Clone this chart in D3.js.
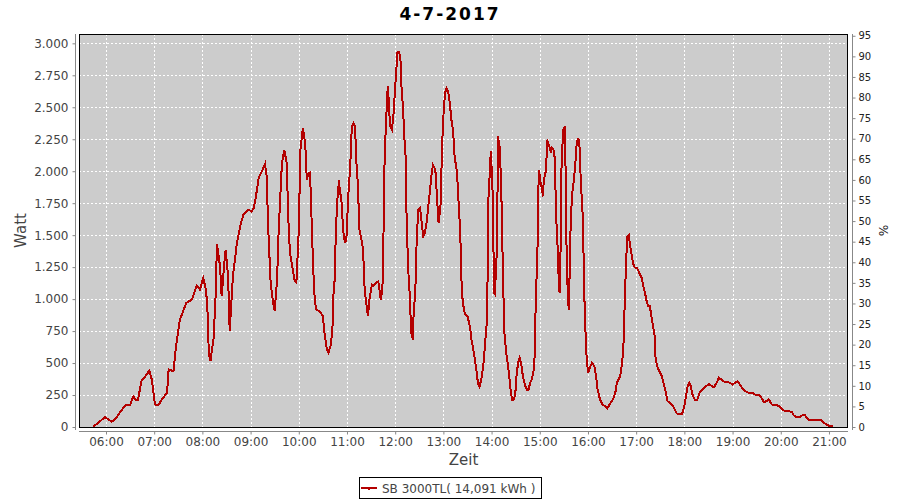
<!DOCTYPE html>
<html><head><meta charset="utf-8">
<script src="https://cdn.jsdelivr.net/npm/d3@7/dist/d3.min.js"></script>
<style>
html,body{margin:0;padding:0;background:#fff;}
svg{display:block;font-family:"DejaVu Sans",sans-serif;}
</style></head>
<body>
<svg id="chart" width="900" height="500"></svg>
<script>
const title = "4-7-2017";
const seriesName = "SB 3000TL( 14,091 kWh )";
const xTickLabels = ["06:00","07:00","08:00","09:00","10:00","11:00","12:00","13:00","14:00","15:00","16:00","17:00","18:00","19:00","20:00","21:00"];
const yTicks = [0,250,500,750,1000,1250,1500,1750,2000,2250,2500,2750,3000];
const pctTicks = [0,5,10,15,20,25,30,35,40,45,50,55,60,65,70,75,80,85,90,95];
const times = ["05:44","05:50","05:59","06:07","06:11","06:17","06:24","06:30","06:34","06:37","06:40","06:44","06:49","06:54","06:57","07:01","07:05","07:11","07:16","07:18","07:24","07:27","07:32","07:36","07:40","07:47","07:53","07:57","08:01","08:04","08:06","08:08","08:10","08:14","08:17","08:18","08:22","08:24","08:28","08:29","08:32","08:34","08:38","08:43","08:47","08:51","08:57","09:01","09:04","09:07","09:10","09:14","09:18","09:20","09:22","09:25","09:28","09:30","09:33","09:35","09:39","09:42","09:45","09:47","09:49","09:55","09:57","10:00","10:02","10:05","10:08","10:10","10:12","10:14","10:16","10:18","10:20","10:22","10:26","10:30","10:32","10:35","10:37","10:40","10:42","10:43","10:45","10:46","10:48","10:50","10:51","10:53","10:55","10:56","10:58","11:00","11:01","11:04","11:06","11:08","11:10","11:12","11:14","11:15","11:18","11:20","11:22","11:25","11:26","11:28","11:31","11:33","11:36","11:39","11:41","11:42","11:44","11:45","11:46","11:47","11:49","11:50","11:51","11:53","11:54","11:56","11:58","12:00","12:02","12:03","12:05","12:07","12:08","12:10","12:11","12:13","12:14","12:16","12:18","12:19","12:20","12:22","12:23","12:25","12:27","12:29","12:31","12:33","12:35","12:37","12:39","12:41","12:43","12:45","12:47","12:50","12:52","12:54","12:56","12:57","12:58","13:00","13:02","13:04","13:06","13:08","13:10","13:12","13:14","13:17","13:19","13:21","13:23","13:25","13:27","13:30","13:33","13:35","13:38","13:41","13:43","13:45","13:48","13:50","13:52","13:54","13:55","13:56","13:58","13:59","14:01","14:02","14:03","14:04","14:06","14:07","14:08","14:10","14:12","14:13","14:15","14:16","14:18","14:20","14:22","14:24","14:26","14:28","14:30","14:31","14:33","14:35","14:37","14:39","14:42","14:44","14:46","14:48","14:50","14:52","14:54","14:55","14:57","14:58","14:59","15:01","15:03","15:04","15:05","15:08","15:09","15:12","15:14","15:15","15:17","15:19","15:20","15:22","15:24","15:25","15:26","15:27","15:29","15:31","15:32","15:33","15:34","15:36","15:37","15:38","15:40","15:42","15:44","15:46","15:48","15:50","15:51","15:53","15:54","15:56","15:58","16:00","16:03","16:05","16:08","16:10","16:12","16:15","16:18","16:21","16:24","16:27","16:31","16:34","16:36","16:40","16:42","16:44","16:45","16:47","16:48","16:49","16:51","16:52","16:54","16:56","16:58","17:01","17:03","17:07","17:09","17:11","17:13","17:15","17:17","17:19","17:21","17:23","17:24","17:26","17:30","17:32","17:34","17:37","17:39","17:42","17:46","17:50","17:52","17:57","18:00","18:02","18:04","18:06","18:08","18:10","18:13","18:16","18:19","18:22","18:25","18:28","18:31","18:34","18:37","18:40","18:43","18:46","18:50","18:53","18:57","19:00","19:03","19:06","19:09","19:13","19:18","19:22","19:26","19:29","19:33","19:36","19:39","19:42","19:45","19:49","19:52","19:55","19:58","20:01","20:05","20:09","20:14","20:16","20:20","20:24","20:27","20:30","20:32","20:35","20:40","20:47","20:51","20:54","20:57","21:00","21:05"];
const watts = [0,33,77,43,58,110,170,170,240,215,215,358,397,441,371,176,170,228,267,449,436,619,840,905,970,996,1105,1074,1165,1087,970,580,514,697,1100,1433,1256,1022,1334,1387,1178,748,1178,1439,1569,1660,1700,1686,1712,1816,1947,1998,2056,1960,1543,1127,970,905,1152,1543,2063,2168,2063,1621,1361,1139,1129,1543,2168,2337,2220,1934,1986,1990,1610,1230,983,918,905,866,736,605,580,645,788,1022,1178,1517,1777,1928,1855,1777,1569,1491,1439,1517,1752,2037,2350,2376,2350,2037,1855,1556,1465,1387,1074,918,866,996,1113,1105,1127,1139,1048,996,1074,1256,1800,2142,2428,2598,2662,2428,2350,2324,2455,2662,2845,2936,2936,2845,2637,2480,2298,2116,1700,1256,1048,892,736,684,892,1048,1517,1700,1712,1595,1491,1517,1595,1712,1830,1960,2051,2012,1803,1595,1700,1777,2142,2428,2611,2650,2624,2533,2402,2324,2116,1986,1751,1517,1048,944,879,866,788,684,580,449,345,314,397,502,658,814,1150,1777,2012,2155,1908,1595,1048,1040,1283,1543,2272,2194,1895,1543,970,736,592,502,397,267,209,215,293,397,502,541,488,397,319,293,293,345,371,423,580,1022,1309,1803,2012,1908,1855,1803,1934,2012,2246,2194,2142,2181,2168,2090,1700,1439,1074,1048,1439,2012,2324,2350,2063,1517,1178,918,1152,1491,1803,1908,2037,2220,2259,2168,1908,1725,1491,892,580,423,475,502,475,397,293,215,176,163,145,176,215,267,345,397,475,605,814,1205,1361,1491,1504,1439,1361,1283,1248,1244,1217,1165,1100,1048,985,944,944,866,788,710,553,475,423,397,345,267,202,189,163,111,98,98,163,241,319,345,319,254,215,215,267,293,306,324,337,319,311,345,384,371,353,353,345,332,345,358,332,293,272,262,262,249,249,228,194,202,215,176,170,170,163,142,124,124,119,92,77,77,92,98,72,53,53,53,51,33,20,9,6];

const toMin = s => { const [h,m] = s.split(":").map(Number); return h*60+m; };
const data = times.map((t,i) => ({t: toMin(t), v: watts[i]}));

const svg = d3.select("#chart");
const L = 79, R = 848, T = 34, B = 427;
const x = d3.scaleLinear().domain([326.4, 1283.7]).range([L, R]);
const y = d3.scaleLinear().domain([0, 3073]).range([B, T]);
const yp = d3.scaleLinear().domain([0, 95.43]).range([B, T]);
const de = d3.formatLocale({decimal:",", thousands:".", grouping:[3], currency:["","€"]});
const fmt = de.format(",.0f");

// plot background
svg.append("rect").attr("x", L).attr("y", T).attr("width", R-L).attr("height", B-T).attr("fill", "#cccccc");

const xTickVals = xTickLabels.map(toMin);
// gridlines
const grid = svg.append("g").attr("stroke", "#ffffff").attr("stroke-width", 1).attr("stroke-dasharray", "2,2");
xTickVals.forEach(v => grid.append("line").attr("x1", Math.round(x(v))+0.5).attr("x2", Math.round(x(v))+0.5).attr("y1", T).attr("y2", B));
yTicks.forEach(v => grid.append("line").attr("x1", L).attr("x2", R).attr("y1", Math.round(y(v))+0.5).attr("y2", Math.round(y(v))+0.5));

// line
svg.append("clipPath").attr("id","pc").append("rect").attr("x", L).attr("y", T).attr("width", R-L).attr("height", B-T);
svg.append("path").datum(data)
  .attr("clip-path","url(#pc)")
  .attr("fill","none").attr("stroke","#b40000").attr("stroke-width",2).attr("stroke-linejoin","miter")
  .attr("shape-rendering","crispEdges")
  .attr("d", d3.line().x(d => x(d.t)).y(d => y(d.v)));

// plot border
svg.append("rect").attr("x", L+0.5).attr("y", T+0.5).attr("width", R-L-1).attr("height", B-T).attr("fill","none").attr("stroke","#000").attr("stroke-width",1);

// left axis
const axisColor = "#888888";
const gy = svg.append("g").attr("transform", "translate(75.5,0)")
  .call(d3.axisLeft(y).tickValues(yTicks).tickFormat(fmt).tickSize(3).tickPadding(4));
gy.select(".domain").attr("stroke", axisColor).attr("d", `M0,${T}V${B+3}`);
gy.selectAll(".tick line").attr("stroke", axisColor);
gy.selectAll(".tick text").attr("fill","#444").style("font-size","12px").style("font-family","DejaVu Sans");

// right axis
const gr = svg.append("g").attr("transform", "translate(852.5,0)")
  .call(d3.axisRight(yp).tickValues(pctTicks).tickSize(3).tickPadding(3));
gr.select(".domain").attr("stroke", axisColor).attr("d", `M0,${T}V${B+3}`);
gr.selectAll(".tick line").attr("stroke", axisColor);
gr.selectAll(".tick text").attr("fill","#222").style("font-size","10px").style("font-family","DejaVu Sans");

// bottom axis
const gx = svg.append("g").attr("transform", "translate(0,431.5)")
  .call(d3.axisBottom(x).tickValues(xTickVals).tickFormat((d,i) => xTickLabels[i]).tickSize(3).tickPadding(3));
gx.select(".domain").attr("stroke", axisColor).attr("d", `M${L},0H${R}`);
gx.selectAll(".tick line").attr("stroke", axisColor);
gx.selectAll(".tick text").attr("fill","#444").style("font-size","12px").style("font-family","DejaVu Sans");

// titles
svg.append("text").attr("x", 450).attr("y", 20).attr("text-anchor","middle")
  .style("font-size","17px").style("font-weight","bold").style("letter-spacing","2px").attr("fill","#000").text(title);
svg.append("text").attr("x", 463.5).attr("y", 465).attr("text-anchor","middle")
  .style("font-size","15px").attr("fill","#444").text("Zeit");
svg.append("text").attr("transform","translate(26,230.5) rotate(-90)").attr("text-anchor","middle")
  .style("font-size","15px").attr("fill","#444").text("Watt");
svg.append("text").attr("transform","translate(879,230.5) rotate(90)").attr("text-anchor","middle")
  .style("font-size","12px").attr("fill","#222").text("%");

// legend
const lg = svg.append("g");
lg.append("rect").attr("x",359.5).attr("y",477.5).attr("width",182).attr("height",21).attr("fill","#fff").attr("stroke","#000");
lg.append("line").attr("x1",361).attr("x2",377).attr("y1",488).attr("y2",488).attr("stroke","#b40000").attr("stroke-width",2);
lg.append("rect").attr("x",368).attr("y",488).attr("width",2).attr("height",2).attr("fill","#b40000");
lg.append("text").attr("x",382).attr("y",492.5).style("font-size","12px").attr("fill","#444").text(seriesName);
</script>
</body></html>
